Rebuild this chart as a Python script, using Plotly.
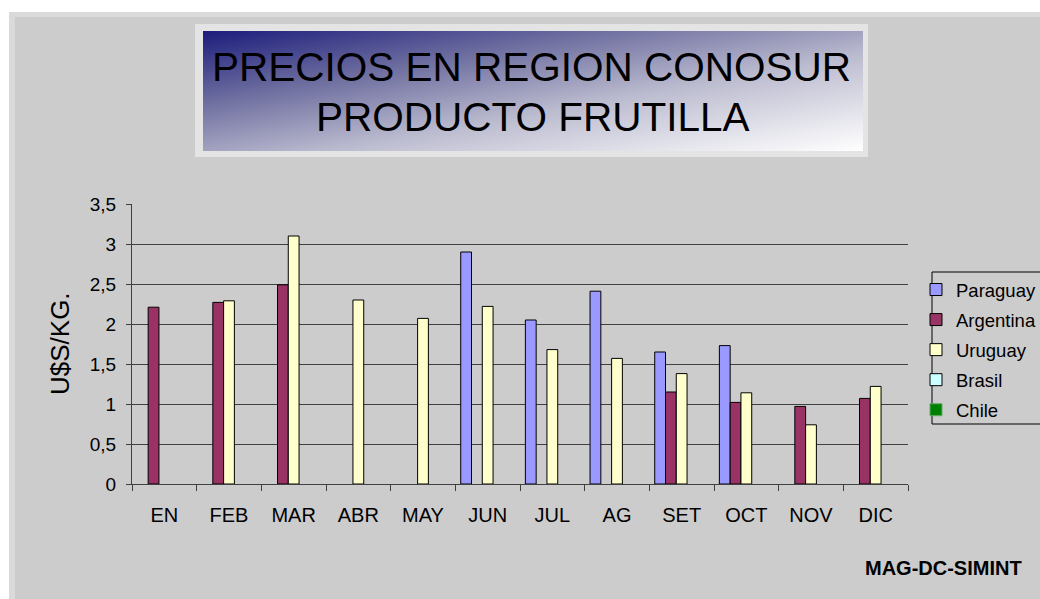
import base64
import plotly.graph_objects as go

# meses y precios (U$S/KG)
meses = ["EN", "FEB", "MAR", "ABR", "MAY", "JUN", "JUL", "AG", "SET", "OCT", "NOV", "DIC"]
paraguay = [None, None, None, None, None, 2.90, 2.05, 2.41, 1.65, 1.73, None, None]
argentina = [2.21, 2.27, 2.49, None, None, None, None, None, 1.15, 1.02, 0.97, 1.07]
uruguay = [None, 2.29, 3.10, 2.30, 2.07, 2.22, 1.68, 1.57, 1.38, 1.14, 0.74, 1.22]
brasil = [None, None, None, None, None, None, None, None, None, None, None, None]
chile = [None, None, None, None, None, None, None, None, None, None, None, None]

W, H = 1040, 599
FONT = "Arial, Liberation Sans, sans-serif"


def fx(x):
    # pixel -> paper x
    return x / W


def fy(y):
    # pixel -> paper y
    return 1 - y / H


series = [
    ("Paraguay", paraguay, "#9999FF", "#000000"),
    ("Argentina", argentina, "#993366", "#000000"),
    ("Uruguay", uruguay, "#FFFFCC", "#000000"),
    ("Brasil", brasil, "#CCFFFF", "#000000"),
    ("Chile", chile, "#008000", "#66AA66"),
]

fig = go.Figure()
for name, vals, color, edge in series:
    fig.add_trace(go.Bar(
        x=meses, y=vals, name=name, legendgroup=name,
        marker=dict(color=color, line=dict(color=edge, width=1)),
    ))

# fondo degradado del titulo (svg en linea)
svg = ('<svg xmlns="http://www.w3.org/2000/svg" width="660" height="120" preserveAspectRatio="none">'
       '<defs><linearGradient id="g" x1="0" y1="0" x2="1" y2="1">'
       '<stop offset="0" stop-color="#1c1c7c"/>'
       '<stop offset="0.3" stop-color="#6e6ea0"/>'
       '<stop offset="0.6" stop-color="#bcbcd0"/>'
       '<stop offset="1" stop-color="#ffffff"/>'
       '</linearGradient></defs>'
       '<rect width="660" height="120" fill="url(#g)"/></svg>')
svg_uri = "data:image/svg+xml;base64," + base64.b64encode(svg.encode()).decode()

shapes = [
    # marco exterior punteado y area gris
    dict(type="rect", xref="paper", yref="paper", x0=fx(9), y0=fy(12), x1=1.1, y1=-0.1,
         fillcolor="#dadada", line=dict(width=0), layer="below"),
    dict(type="rect", xref="paper", yref="paper", x0=fx(15), y0=fy(17), x1=1.1, y1=-0.1,
         fillcolor="#CCCCCC", line=dict(width=0), layer="below"),
    # marco del titulo
    dict(type="rect", xref="paper", yref="paper", x0=fx(195), y0=fy(24), x1=fx(868), y1=fy(157),
         fillcolor="#e4e4e4", line=dict(width=0), layer="below"),
    # caja de la leyenda
    dict(type="rect", xref="paper", yref="paper", x0=fx(932), y0=fy(272), x1=fx(1045), y1=fy(424),
         fillcolor="rgba(0,0,0,0)", line=dict(color="#000000", width=1), layer="below"),
]


def label(text, x, y, size, angle=0):
    return dict(text=text, x=fx(x), y=fy(y), xref="paper", yref="paper",
                xanchor="center", yanchor="middle", textangle=angle, showarrow=False,
                font=dict(family=FONT, size=size, color="#000000"))


annotations = [
    label("PRECIOS EN REGION CONOSUR", 531, 67, 40.5),
    label("PRODUCTO FRUTILLA", 533, 117, 40.5),
    label("U$S/KG.", 60, 344, 26, -90),
    label("<b>MAG-DC-SIMINT</b>", 943, 568, 20),
]

fig.update_layout(
    width=W, height=H,
    margin=dict(l=0, r=0, t=0, b=0, autoexpand=False),
    paper_bgcolor="#FFFFFF",
    plot_bgcolor="rgba(0,0,0,0)",
    separators=",.",
    barmode="group",
    bargap=1 / 6,
    bargroupgap=0,
    font=dict(family=FONT, color="#000000"),
    xaxis=dict(
        domain=[fx(132), fx(908)], type="category", tickson="boundaries",
        ticks="outside", ticklen=6, tickcolor="#404040", showline=True,
        linecolor="#404040", linewidth=1, showgrid=False,
        tickfont=dict(family=FONT, size=20, color="#000000"), ticklabelstandoff=13,
    ),
    yaxis=dict(
        domain=[fy(484), fy(204)], range=[0, 3.5], dtick=0.5, tick0=0,
        ticks="outside", ticklen=5, tickcolor="#404040", showline=True,
        linecolor="#404040", linewidth=1, showgrid=True, gridcolor="#404040",
        gridwidth=1, zeroline=False,
        tickfont=dict(family=FONT, size=19, color="#000000"), ticklabelstandoff=6,
    ),
    showlegend=True,
    legend=dict(
        x=fx(916), y=fy(271), xanchor="left", yanchor="top",
        bgcolor="rgba(0,0,0,0)", borderwidth=0,
        font=dict(family=FONT, size=18.5, color="#000000"),
        tracegroupgap=3, traceorder="grouped",
    ),
    shapes=shapes,
    annotations=annotations,
    images=[dict(source=svg_uri, xref="paper", yref="paper", x=fx(203), y=fy(31),
                 sizex=fx(660), sizey=120 / H, xanchor="left", yanchor="top",
                 sizing="stretch", layer="above")],
)

fig.write_html("out.html", config={"displayModeBar": False},
               post_script="document.body.style.margin='0';")
